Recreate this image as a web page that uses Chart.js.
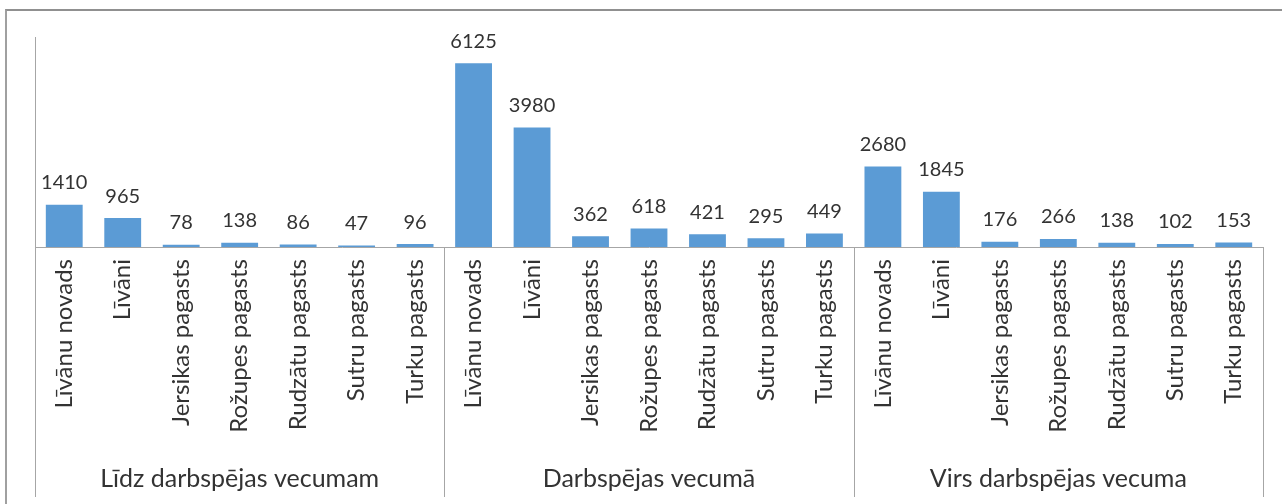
<!DOCTYPE html>
<html>
<head>
<meta charset="utf-8">
<script src="https://cdn.jsdelivr.net/npm/chart.js@4"></script>
<style>
html,body{margin:0;padding:0;background:#fff;overflow:hidden;}
#wrap{position:relative;width:1282px;height:504px;}
#frame{position:absolute;left:5px;top:9px;width:1400px;height:600px;border-left:2px solid #a0a0a0;border-top:2px solid #909090;box-sizing:border-box;}
#c{position:absolute;left:0;top:0;}
</style>
</head>
<body>
<div id="wrap">
<div id="frame"></div>
<canvas id="c" width="1282" height="504"></canvas>
</div>
<script>
const categories = ['Līvānu novads','Līvāni','Jersikas pagasts','Rožupes pagasts','Rudzātu pagasts','Sutru pagasts','Turku pagasts'];
const groups = ['Līdz darbspējas vecumam','Darbspējas vecumā','Virs darbspējas vecuma'];
const valuesBelow = [1410, 965, 78, 138, 86, 47, 96];
const valuesWorking = [6125, 3980, 362, 618, 421, 295, 449];
const valuesAbove = [2680, 1845, 176, 266, 138, 102, 153];

const labels = [...categories, ...categories, ...categories];
const values = [...valuesBelow, ...valuesWorking, ...valuesAbove];

const FONT = 'Lato, "Open Sans", sans-serif';
const TEXT = '#333333';
const LINE = '#a6a6a6';

const decor = {
  id: 'decor',
  afterDatasetsDraw(chart) {
    const ctx = chart.ctx;
    const meta = chart.getDatasetMeta(0);
    ctx.save();
    ctx.font = '20px ' + FONT;
    ctx.fillStyle = TEXT;
    ctx.textAlign = 'center';
    ctx.textBaseline = 'bottom';
    meta.data.forEach((bar, i) => {
      ctx.fillText(String(values[i]), bar.x, bar.y - 12);
    });
    ctx.restore();
  },
  afterDraw(chart) {
    const ctx = chart.ctx;
    const xs = chart.scales.x;
    const ys = chart.scales.y;
    const base = ys.getPixelForValue(0);
    const n = categories.length;
    const step = (chart.chartArea.right - chart.chartArea.left) / labels.length;
    ctx.save();
    ctx.strokeStyle = LINE;
    ctx.lineWidth = 1;
    for (let g = 0; g <= groups.length; g++) {
      const x = Math.round(chart.chartArea.left + g * n * step) + 0.5;
      ctx.beginPath();
      ctx.moveTo(x, base);
      ctx.lineTo(x, 497);
      ctx.stroke();
    }
    ctx.font = '25px ' + FONT;
    ctx.fillStyle = TEXT;
    ctx.textAlign = 'center';
    ctx.textBaseline = 'middle';
    groups.forEach((g, gi) => {
      const a = xs.getPixelForValue(gi * n);
      const b = xs.getPixelForValue(gi * n + n - 1);
      ctx.fillText(g, (a + b) / 2, 479);
    });
    ctx.restore();
  }
};

new Chart(document.getElementById('c'), {
  type: 'bar',
  data: {
    labels: labels,
    datasets: [{
      data: values,
      backgroundColor: '#5b9bd5',
      borderWidth: 0,
      categoryPercentage: 1,
      barPercentage: 0.63
    }]
  },
  options: {
    responsive: false,
    animation: false,
    layout: { padding: { top: 37, right: 19, left: 0, bottom: 0 } },
    plugins: { legend: { display: false }, tooltip: { enabled: false } },
    scales: {
      x: {
        grid: { display: false, drawTicks: false },
        border: { display: true, color: LINE, width: 1 },
        ticks: {
          autoSkip: false, minRotation: 90, maxRotation: 90, padding: 12,
          color: TEXT, font: { family: FONT, size: 24 }
        },
        afterFit(scale) { scale.height = 257; }
      },
      y: {
        min: 0, max: 7000,
        grid: { display: false, drawTicks: false },
        border: { display: true, color: LINE, width: 1 },
        ticks: { display: false },
        afterFit(scale) { scale.width = 35; }
      }
    }
  },
  plugins: [decor]
});
</script>
</body>
</html>
